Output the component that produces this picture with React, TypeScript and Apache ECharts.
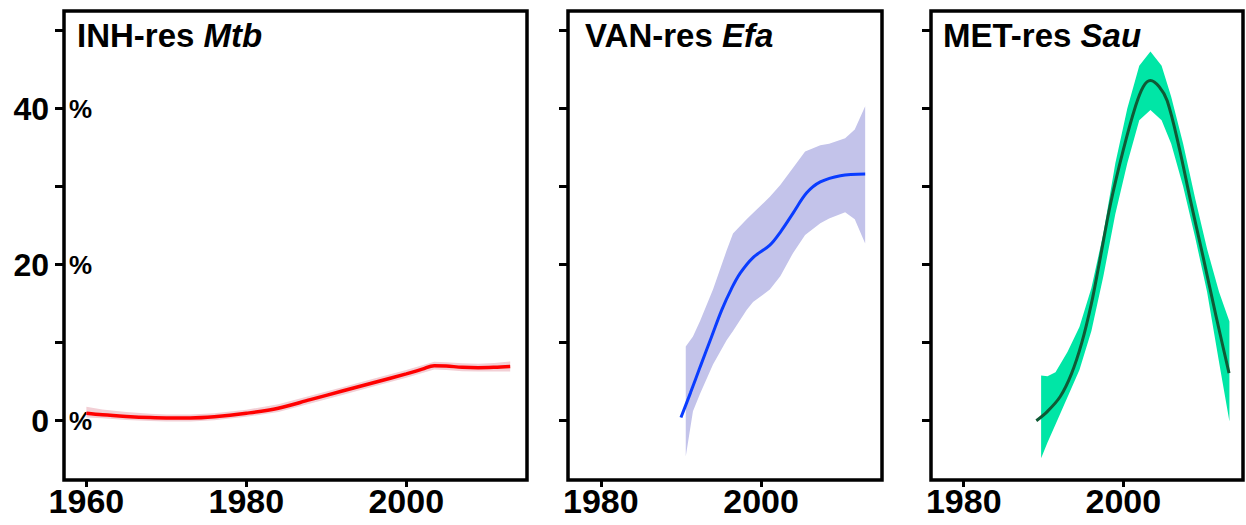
import { useEffect, useRef } from 'react';
import * as echarts from 'echarts';

const FONT = '"Liberation Sans", Arial, Helvetica, sans-serif';

// Panel 1: INH-res Mtb
const MTB_YEARS = [1960, 1962, 1965, 1968, 1970, 1973, 1976, 1980, 1984, 1988, 1992, 1996, 2000, 2002, 2003.5, 2005, 2007, 2009, 2011, 2013];
const MTB_MID = [0.95, 0.75, 0.55, 0.4, 0.35, 0.35, 0.5, 0.95, 1.6, 2.7, 3.8, 4.9, 6.0, 6.6, 7.05, 7.0, 6.85, 6.8, 6.85, 6.95];
const MTB_LO = [0.4, 0.3, 0.1, -0.05, -0.1, -0.1, 0.05, 0.5, 1.1, 2.2, 3.3, 4.4, 5.5, 6.1, 6.55, 6.5, 6.35, 6.3, 6.3, 6.3];
const MTB_HI = [1.8, 1.45, 1.1, 0.9, 0.8, 0.8, 0.95, 1.4, 2.1, 3.2, 4.3, 5.4, 6.5, 7.1, 7.55, 7.5, 7.35, 7.3, 7.4, 7.6];

// Panel 2: VAN-res Efa
const EFA_YEARS = [1990, 1991.2, 1992.4, 1993.8, 1995.1, 1996.3, 1997.4, 1999, 2001.1, 2002.5, 2004, 2005.7, 2007.4, 2009.9, 2013];
const EFA_MID = [0.4, 3.6, 6.9, 10.7, 14.2, 16.9, 18.9, 20.9, 22.5, 24.3, 26.6, 29.2, 30.6, 31.4, 31.6];
const EFA_BAND_YEARS = [1990.6, 1991.5, 1992.4, 1994, 1995.7, 1996.5, 1998.2, 1999, 2001.1, 2002.4, 2004, 2005.5, 2007.4, 2008.5, 2010.5, 2011.7, 2013];
const EFA_LO = [-4.6, 1.2, 3.5, 7.2, 10.3, 11.5, 14.2, 15.2, 16.8, 18.5, 21.5, 23.8, 25.3, 25.9, 26.7, 25.8, 22.7];
const EFA_HI = [9.5, 10.8, 12.8, 16.8, 21.8, 24.0, 25.8, 26.6, 28.7, 30.2, 32.4, 34.5, 35.3, 35.5, 36.2, 37.3, 40.3];

// Panel 3: MET-res Sau
const SAU_YEARS = [1989.1, 1990.5, 1992.1, 1993.5, 1994.8, 1996, 1996.9, 1998.4, 2000, 2001.5, 2002.5, 2003.4, 2004.5, 2005.5, 2007, 2008.4, 2010, 2011.6, 2013.25];
const SAU_MID = [0.0, 1.2, 3.1, 6.0, 10.0, 15.0, 19.7, 27.8, 34.7, 40.2, 42.8, 43.6, 42.8, 41.0, 35.0, 28.3, 21.0, 13.5, 6.1];
const SAU_BAND_YEARS = [1989.7, 1990.5, 1991.5, 1993, 1994.5, 1996, 1997.5, 1999, 2000.5, 2002, 2003.4, 2004.8, 2006, 2007.5, 2009, 2010.5, 2012, 2013.3];
const SAU_LO = [-4.8, -2.8, -0.5, 3.0, 6.5, 11.5, 18.5, 26.5, 33.0, 38.5, 39.8, 38.5, 35.5, 30.0, 23.5, 16.5, 7.5, -0.1];
const SAU_HI = [5.8, 5.7, 6.2, 8.8, 12.0, 17.0, 24.0, 33.0, 40.0, 45.5, 47.3, 45.5, 41.5, 35.5, 28.5, 22.0, 16.5, 12.7];

const TITLES = [
  ['INH-res ', 'Mtb'],
  ['VAN-res ', 'Efa'],
  ['MET-res ', 'Sau'],
];
const X_RANGES = [[1957.2, 2015.1], [1975.9, 2015.1], [1975.9, 2015]];
const X_TICKS = [[1960, 1980, 2000], [1980, 2000], [1980, 2000]];
const Y_MIN = -7.6;
const Y_MAX = 52.5;
const Y_TICKS = [0, 10, 20, 30, 40, 50];
const Y_LABELS = [0, 20, 40];

const GRIDS = [
  { left: 64, width: 463 },
  { left: 568, width: 314 },
  { left: 931, width: 312 },
];
const TITLE_LEFT = [77, 585, 943];

const PANELS = [
  { years: MTB_YEARS, mid: MTB_MID, bandYears: MTB_YEARS, lo: MTB_LO, hi: MTB_HI, line: '#ff0000', band: '#f2cfd5', width: 3.5 },
  { years: EFA_YEARS, mid: EFA_MID, bandYears: EFA_BAND_YEARS, lo: EFA_LO, hi: EFA_HI, line: '#0a3cff', band: '#c3c3ea', width: 3 },
  { years: SAU_YEARS, mid: SAU_MID, bandYears: SAU_BAND_YEARS, lo: SAU_LO, hi: SAU_HI, line: '#0f5a35', band: '#00e6a6', width: 3 },
];

function buildOption() {
  const grid = GRIDS.map((g) => ({
    left: g.left,
    top: 11,
    width: g.width,
    height: 469,
    show: true,
    borderColor: '#000',
    borderWidth: 3.5,
    backgroundColor: '#fff',
    containLabel: false,
  }));

  const xAxis = X_RANGES.map((r, i) => ({
    type: 'value',
    gridIndex: i,
    min: r[0],
    max: r[1],
    axisLine: { show: false, onZero: false },
    splitLine: { show: false },
    axisTick: { show: true, length: 7, lineStyle: { width: 3, color: '#000' }, customValues: X_TICKS[i] },
    axisLabel: {
      customValues: X_TICKS[i],
      formatter: (v: number) => String(Math.round(v)),
      fontSize: 34,
      fontWeight: 'bold',
      color: '#000',
      fontFamily: FONT,
      margin: 4,
    },
  }));

  const yAxis: any[] = GRIDS.map((_, i) => ({
    type: 'value',
    gridIndex: i,
    min: Y_MIN,
    max: Y_MAX,
    axisLine: { show: false, onZero: false },
    splitLine: { show: false },
    axisTick: { show: true, length: 9, lineStyle: { width: 3, color: '#000' }, customValues: Y_TICKS },
    axisLabel: {
      show: i === 0,
      customValues: Y_LABELS,
      fontSize: 32,
      fontWeight: 'bold',
      color: '#000',
      fontFamily: FONT,
      margin: 15,
    },
  }));
  yAxis.push({
    type: 'value',
    gridIndex: 0,
    position: 'left',
    min: Y_MIN,
    max: Y_MAX,
    axisLine: { show: false, onZero: false },
    splitLine: { show: false },
    axisTick: { show: false },
    axisLabel: {
      inside: true,
      customValues: Y_LABELS,
      formatter: () => '%',
      fontSize: 26,
      fontWeight: 'bold',
      color: '#000',
      fontFamily: FONT,
      margin: 5,
      padding: [5, 0, 0, 0],
    },
  });

  const series: any[] = [];
  PANELS.forEach((p, i) => {
    const bandData = p.bandYears.map((y, k) => [y, p.lo[k], p.hi[k]]);
    series.push({
      type: 'custom',
      xAxisIndex: i,
      yAxisIndex: i,
      data: bandData,
      encode: { x: 0, y: [1, 2] },
      silent: true,
      z: 1,
      renderItem: (params: any, api: any) => {
        if (params.dataIndex !== 0) return null;
        const upper = bandData.map((d) => api.coord([d[0], d[2]]));
        const lower = bandData.map((d) => api.coord([d[0], d[1]])).reverse();
        return {
          type: 'polygon',
          shape: { points: upper.concat(lower) },
          style: { fill: p.band, stroke: null },
        };
      },
    });
    series.push({
      type: 'line',
      xAxisIndex: i,
      yAxisIndex: i,
      data: p.years.map((y, k) => [y, p.mid[k]]),
      symbol: 'none',
      smooth: 0.35,
      lineStyle: { color: p.line, width: p.width },
      z: 3,
    });
  });

  const title = TITLES.map((t, i) => ({
    left: TITLE_LEFT[i],
    top: 19,
    padding: 0,
    text: `{a|${t[0]}}{b|${t[1]}}`,
    textStyle: {
      rich: {
        a: { fontSize: 33, fontWeight: 'bold', color: '#000', fontFamily: FONT },
        b: { fontSize: 33, fontWeight: 'bold', fontStyle: 'italic', color: '#000', fontFamily: FONT },
      },
    },
  }));

  return {
    animation: false,
    backgroundColor: '#fff',
    title,
    grid,
    xAxis,
    yAxis,
    series,
  };
}

export default function App() {
  const ref = useRef<HTMLDivElement>(null);
  useEffect(() => {
    document.body.style.margin = '0';
    const chart = echarts.init(ref.current!, null, { renderer: 'svg' });
    chart.setOption(buildOption() as any);
    return () => chart.dispose();
  }, []);
  return <div ref={ref} style={{ width: 1246, height: 525 }} />;
}
